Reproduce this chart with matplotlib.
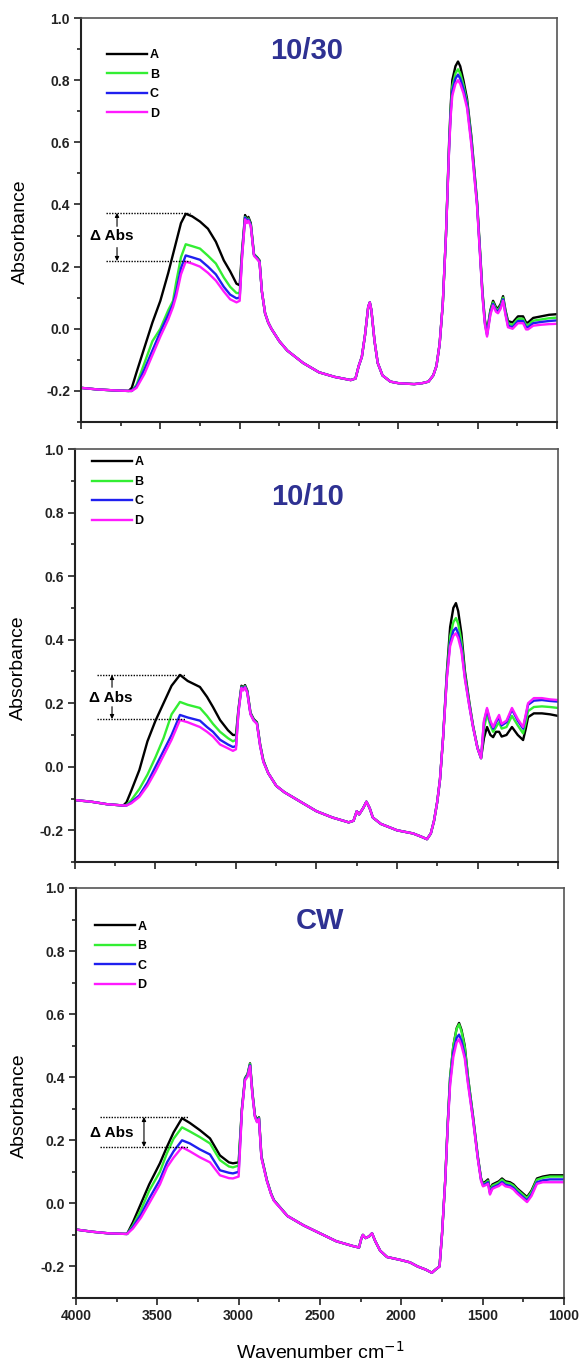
import matplotlib
matplotlib.use("Agg")
import matplotlib.pyplot as plt
from matplotlib.ticker import MultipleLocator, FixedLocator, NullFormatter

plt.rcParams["font.family"] = ["Liberation Sans", "DejaVu Sans"]
plt.rcParams["axes.unicode_minus"] = False

SERIES = ["A", "B", "C", "D"]
COLORS = ["#000000", "#33ee33", "#1f1fef", "#ff1aff"]
TITLES = ["10/30", "10/10", "CW"]

# ---------------- panel 1 : 10/30 ----------------
P1_WN = [4000, 3900, 3800, 3700, 3680, 3650, 3600, 3550, 3500, 3450,
         3420, 3400, 3370, 3340, 3300, 3250, 3200, 3150, 3100, 3060,
         3020, 3000, 2985, 2966, 2955, 2945, 2930, 2910, 2890, 2875,
         2860, 2840, 2820, 2800, 2750, 2700, 2600, 2500, 2400, 2300,
         2270, 2250, 2230, 2210, 2190, 2180, 2170, 2150, 2130, 2100,
         2050, 2000, 1900, 1850, 1810, 1780, 1760, 1740, 1720, 1700,
         1690, 1680, 1670, 1660, 1640, 1624, 1610, 1590, 1567, 1540,
         1504, 1485, 1470, 1455, 1441, 1420, 1403, 1385, 1372, 1355,
         1340, 1325, 1309, 1280, 1246, 1214, 1195, 1183, 1150, 1100,
         1050, 1000]
P1_A = [-0.190, -0.195, -0.198, -0.200, -0.190, -0.140, -0.060, 0.020, 0.090, 0.180,
        0.240, 0.280, 0.340, 0.370, 0.362, 0.345, 0.322, 0.280, 0.220, 0.185,
        0.145, 0.140, 0.250, 0.366, 0.350, 0.360, 0.340, 0.240, 0.230, 0.220,
        0.120, 0.050, 0.020, 0.000, -0.040, -0.070, -0.110, -0.140, -0.155, -0.165,
        -0.160, -0.120, -0.090, -0.020, 0.070, 0.085, 0.060, -0.040, -0.110, -0.150,
        -0.170, -0.175, -0.178, -0.175, -0.170, -0.150, -0.120, -0.050, 0.080, 0.300,
        0.450, 0.600, 0.720, 0.800, 0.845, 0.860, 0.845, 0.800, 0.740, 0.620,
        0.410, 0.250, 0.120, 0.030, -0.010, 0.060, 0.090, 0.070, 0.065, 0.080,
        0.105, 0.060, 0.025, 0.020, 0.040, 0.040, 0.020, 0.020, 0.035, 0.040,
        0.045, 0.047]
P1_B = [-0.190, -0.195, -0.198, -0.200, -0.200, -0.180, -0.110, -0.040, 0.000, 0.060,
        0.090, 0.150, 0.230, 0.272, 0.266, 0.258, 0.235, 0.210, 0.165, 0.135,
        0.115, 0.115, 0.240, 0.360, 0.345, 0.355, 0.335, 0.240, 0.228, 0.218,
        0.120, 0.050, 0.020, 0.000, -0.040, -0.070, -0.110, -0.140, -0.155, -0.165,
        -0.160, -0.120, -0.090, -0.020, 0.070, 0.085, 0.060, -0.040, -0.110, -0.150,
        -0.170, -0.175, -0.178, -0.175, -0.170, -0.150, -0.120, -0.050, 0.080, 0.300,
        0.445, 0.590, 0.705, 0.780, 0.822, 0.835, 0.822, 0.785, 0.730, 0.612,
        0.405, 0.245, 0.115, 0.025, -0.015, 0.055, 0.085, 0.065, 0.060, 0.075,
        0.100, 0.055, 0.018, 0.012, 0.032, 0.032, 0.012, 0.012, 0.026, 0.030,
        0.034, 0.036]
P1_C = [-0.190, -0.195, -0.198, -0.200, -0.200, -0.185, -0.130, -0.070, -0.010, 0.045,
        0.080, 0.120, 0.195, 0.236, 0.230, 0.222, 0.200, 0.175, 0.135, 0.110,
        0.098, 0.100, 0.235, 0.358, 0.343, 0.352, 0.333, 0.238, 0.226, 0.216,
        0.120, 0.050, 0.020, 0.000, -0.040, -0.070, -0.110, -0.140, -0.155, -0.165,
        -0.160, -0.120, -0.090, -0.020, 0.070, 0.085, 0.060, -0.040, -0.110, -0.150,
        -0.170, -0.175, -0.178, -0.175, -0.170, -0.150, -0.120, -0.050, 0.080, 0.300,
        0.442, 0.585, 0.695, 0.765, 0.805, 0.818, 0.805, 0.772, 0.720, 0.602,
        0.400, 0.240, 0.110, 0.020, -0.020, 0.050, 0.080, 0.060, 0.055, 0.070,
        0.095, 0.050, 0.010, 0.005, 0.025, 0.025, 0.005, 0.005, 0.018, 0.022,
        0.025, 0.027]
P1_D = [-0.190, -0.195, -0.198, -0.200, -0.200, -0.190, -0.145, -0.085, -0.025, 0.030,
        0.070, 0.105, 0.175, 0.216, 0.210, 0.200, 0.180, 0.155, 0.120, 0.095,
        0.085, 0.090, 0.230, 0.352, 0.340, 0.348, 0.330, 0.235, 0.224, 0.214,
        0.120, 0.050, 0.020, 0.000, -0.040, -0.070, -0.110, -0.140, -0.155, -0.165,
        -0.160, -0.120, -0.090, -0.020, 0.070, 0.085, 0.060, -0.040, -0.110, -0.150,
        -0.170, -0.175, -0.178, -0.175, -0.170, -0.150, -0.120, -0.050, 0.080, 0.300,
        0.440, 0.580, 0.685, 0.750, 0.788, 0.800, 0.788, 0.758, 0.710, 0.592,
        0.395, 0.235, 0.105, 0.015, -0.025, 0.045, 0.075, 0.055, 0.050, 0.065,
        0.090, 0.045, 0.005, 0.000, 0.018, 0.018, -0.002, -0.002, 0.010, 0.013,
        0.015, 0.016]

# ---------------- panel 2 : 10/10 ----------------
P2_WN = [4000, 3900, 3800, 3700, 3680, 3650, 3600, 3550, 3500, 3450,
         3400, 3348, 3300, 3224, 3180, 3143, 3099, 3050, 3019, 3000,
         2985, 2966, 2955, 2944, 2930, 2910, 2890, 2870, 2850, 2830,
         2800, 2750, 2700, 2600, 2500, 2400, 2300, 2270, 2250, 2235,
         2210, 2190, 2170, 2150, 2100, 2050, 2000, 1900, 1850, 1814,
         1790, 1770, 1750, 1733, 1714, 1690, 1670, 1650, 1634, 1620,
         1600, 1578, 1550, 1528, 1500, 1478, 1460, 1441, 1420, 1403,
         1385, 1366, 1350, 1320, 1286, 1250, 1217, 1200, 1186, 1150,
         1100, 1050, 1000]
P2_A = [-0.105, -0.110, -0.118, -0.122, -0.112, -0.075, -0.010, 0.080, 0.145, 0.200,
        0.255, 0.289, 0.270, 0.251, 0.220, 0.188, 0.147, 0.115, 0.100, 0.100,
        0.180, 0.255, 0.248, 0.257, 0.240, 0.170, 0.150, 0.140, 0.070, 0.020,
        -0.020, -0.060, -0.080, -0.110, -0.140, -0.160, -0.175, -0.170, -0.140, -0.150,
        -0.130, -0.110, -0.130, -0.160, -0.180, -0.190, -0.200, -0.210, -0.220, -0.228,
        -0.210, -0.170, -0.110, -0.040, 0.090, 0.300, 0.440, 0.500, 0.515, 0.490,
        0.420, 0.300, 0.200, 0.130, 0.060, 0.027, 0.090, 0.125, 0.100, 0.093,
        0.110, 0.110, 0.095, 0.100, 0.125, 0.100, 0.084, 0.120, 0.156, 0.168,
        0.168, 0.165, 0.160]
P2_B = [-0.105, -0.110, -0.118, -0.122, -0.120, -0.105, -0.070, -0.025, 0.030, 0.090,
        0.165, 0.204, 0.195, 0.185, 0.160, 0.135, 0.110, 0.090, 0.080, 0.085,
        0.175, 0.252, 0.245, 0.254, 0.237, 0.168, 0.148, 0.138, 0.068, 0.018,
        -0.020, -0.060, -0.080, -0.110, -0.140, -0.160, -0.175, -0.170, -0.140, -0.150,
        -0.130, -0.110, -0.130, -0.160, -0.180, -0.190, -0.200, -0.210, -0.220, -0.228,
        -0.210, -0.170, -0.110, -0.040, 0.090, 0.290, 0.410, 0.455, 0.468, 0.450,
        0.395, 0.290, 0.195, 0.128, 0.060, 0.027, 0.120, 0.165, 0.130, 0.110,
        0.125, 0.140, 0.120, 0.125, 0.160, 0.130, 0.105, 0.140, 0.175, 0.188,
        0.190, 0.188, 0.185]
P2_C = [-0.105, -0.110, -0.118, -0.122, -0.122, -0.112, -0.090, -0.050, 0.000, 0.050,
        0.100, 0.163, 0.155, 0.145, 0.125, 0.110, 0.085, 0.070, 0.062, 0.065,
        0.172, 0.250, 0.243, 0.252, 0.235, 0.166, 0.146, 0.136, 0.066, 0.016,
        -0.020, -0.060, -0.080, -0.110, -0.140, -0.160, -0.175, -0.170, -0.140, -0.150,
        -0.130, -0.110, -0.130, -0.160, -0.180, -0.190, -0.200, -0.210, -0.220, -0.228,
        -0.210, -0.170, -0.110, -0.040, 0.090, 0.285, 0.390, 0.428, 0.437, 0.420,
        0.375, 0.280, 0.190, 0.126, 0.058, 0.027, 0.140, 0.180, 0.140, 0.120,
        0.140, 0.155, 0.130, 0.140, 0.180, 0.145, 0.120, 0.160, 0.195, 0.208,
        0.210, 0.207, 0.205]
P2_D = [-0.105, -0.110, -0.118, -0.122, -0.122, -0.115, -0.095, -0.060, -0.015, 0.035,
        0.085, 0.147, 0.140, 0.125, 0.110, 0.095, 0.070, 0.058, 0.050, 0.055,
        0.170, 0.248, 0.240, 0.250, 0.233, 0.165, 0.145, 0.135, 0.065, 0.015,
        -0.020, -0.060, -0.080, -0.110, -0.140, -0.160, -0.175, -0.170, -0.140, -0.150,
        -0.130, -0.110, -0.130, -0.160, -0.180, -0.190, -0.200, -0.210, -0.220, -0.228,
        -0.210, -0.170, -0.110, -0.040, 0.090, 0.280, 0.380, 0.412, 0.420, 0.405,
        0.365, 0.275, 0.188, 0.125, 0.058, 0.027, 0.145, 0.185, 0.145, 0.125,
        0.145, 0.163, 0.135, 0.145, 0.185, 0.150, 0.125, 0.165, 0.200, 0.216,
        0.216, 0.212, 0.210]

# ---------------- panel 3 : CW ----------------
P3_WN = [4000, 3900, 3800, 3686, 3650, 3600, 3550, 3484, 3440, 3400,
         3348, 3300, 3238, 3176, 3115, 3060, 3035, 3000, 2980, 2961,
         2945, 2930, 2915, 2900, 2887, 2875, 2860, 2826, 2800, 2783,
         2700, 2600, 2500, 2400, 2300, 2260, 2245, 2236, 2220, 2199,
         2180, 2160, 2130, 2088, 2000, 1947, 1900, 1850, 1812, 1790,
         1765, 1750, 1730, 1715, 1700, 1680, 1660, 1645, 1630, 1610,
         1590, 1560, 1530, 1510, 1498, 1480, 1467, 1455, 1440, 1420,
         1400, 1381, 1360, 1332, 1310, 1289, 1260, 1227, 1200, 1166,
         1130, 1086, 1000]
P3_A = [-0.083, -0.090, -0.095, -0.097, -0.060, 0.000, 0.060, 0.127, 0.180, 0.225,
        0.270, 0.255, 0.232, 0.206, 0.152, 0.130, 0.127, 0.130, 0.300, 0.397,
        0.410, 0.444, 0.350, 0.280, 0.263, 0.273, 0.150, 0.073, 0.030, 0.010,
        -0.040, -0.070, -0.095, -0.120, -0.135, -0.140, -0.110, -0.100, -0.110, -0.105,
        -0.095, -0.120, -0.150, -0.170, -0.180, -0.187, -0.200, -0.210, -0.220, -0.210,
        -0.200, -0.100, 0.073, 0.250, 0.400, 0.500, 0.555, 0.572, 0.550, 0.500,
        0.400, 0.280, 0.150, 0.080, 0.063, 0.070, 0.076, 0.041, 0.060, 0.065,
        0.070, 0.079, 0.070, 0.067, 0.060, 0.048, 0.035, 0.020, 0.040, 0.079,
        0.085, 0.089, 0.089]
P3_B = [-0.083, -0.090, -0.095, -0.097, -0.070, -0.020, 0.040, 0.100, 0.160, 0.205,
        0.241, 0.228, 0.210, 0.190, 0.137, 0.117, 0.114, 0.120, 0.298, 0.395,
        0.408, 0.442, 0.348, 0.278, 0.261, 0.271, 0.148, 0.072, 0.030, 0.010,
        -0.040, -0.070, -0.095, -0.120, -0.135, -0.140, -0.110, -0.100, -0.110, -0.105,
        -0.095, -0.120, -0.150, -0.170, -0.180, -0.187, -0.200, -0.210, -0.220, -0.210,
        -0.200, -0.100, 0.073, 0.250, 0.400, 0.500, 0.553, 0.568, 0.545, 0.495,
        0.398, 0.278, 0.148, 0.078, 0.060, 0.066, 0.072, 0.037, 0.056, 0.061,
        0.066, 0.075, 0.066, 0.063, 0.056, 0.044, 0.031, 0.016, 0.036, 0.075,
        0.081, 0.085, 0.085]
P3_C = [-0.083, -0.090, -0.095, -0.097, -0.075, -0.035, 0.015, 0.075, 0.130, 0.165,
        0.200, 0.190, 0.171, 0.155, 0.105, 0.097, 0.095, 0.100, 0.295, 0.393,
        0.405, 0.438, 0.345, 0.276, 0.259, 0.269, 0.146, 0.071, 0.029, 0.009,
        -0.040, -0.070, -0.095, -0.120, -0.135, -0.140, -0.110, -0.100, -0.110, -0.105,
        -0.095, -0.120, -0.150, -0.170, -0.180, -0.187, -0.200, -0.210, -0.220, -0.210,
        -0.200, -0.100, 0.072, 0.245, 0.385, 0.480, 0.525, 0.535, 0.515, 0.470,
        0.385, 0.272, 0.145, 0.075, 0.057, 0.062, 0.067, 0.032, 0.050, 0.055,
        0.060, 0.068, 0.059, 0.056, 0.049, 0.037, 0.024, 0.009, 0.028, 0.067,
        0.073, 0.076, 0.076]
P3_D = [-0.083, -0.090, -0.095, -0.097, -0.080, -0.045, 0.000, 0.060, 0.115, 0.145,
        0.178, 0.165, 0.146, 0.130, 0.089, 0.080, 0.079, 0.085, 0.292, 0.390,
        0.402, 0.435, 0.342, 0.274, 0.257, 0.267, 0.144, 0.070, 0.028, 0.008,
        -0.040, -0.070, -0.095, -0.120, -0.135, -0.140, -0.110, -0.100, -0.110, -0.105,
        -0.095, -0.120, -0.150, -0.170, -0.180, -0.187, -0.200, -0.210, -0.220, -0.210,
        -0.200, -0.100, 0.072, 0.240, 0.375, 0.465, 0.510, 0.520, 0.500, 0.460,
        0.378, 0.268, 0.142, 0.072, 0.054, 0.058, 0.062, 0.028, 0.046, 0.051,
        0.055, 0.063, 0.054, 0.051, 0.044, 0.032, 0.019, 0.004, 0.023, 0.062,
        0.067, 0.067, 0.067]

# Delta Abs markers: (upper level, lower level, line x-extent, arrow x, text x, text y)
DELTA = [
    dict(top=0.373, bot=0.218, x0=3842, x1=3313, xa=3773, xt=3805, yt=0.298, split=True),
    dict(top=0.289, bot=0.150, x0=3863, x1=3317, xa=3770, xt=3776, yt=0.216, split=True),
    dict(top=0.274, bot=0.179, x0=3852, x1=3311, xa=3582, xt=3781, yt=0.223, split=False),
]

PANELS = [
    (P1_WN, [P1_A, P1_B, P1_C, P1_D]),
    (P2_WN, [P2_A, P2_B, P2_C, P2_D]),
    (P3_WN, [P3_A, P3_B, P3_C, P3_D]),
]

# axes rectangles in figure fractions
RECTS = [
    (0.1387, 0.6906, 0.8151, 0.2962),
    (0.1284, 0.3680, 0.8271, 0.3028),
    (0.1301, 0.0484, 0.8356, 0.3006),
]
TITLE_POS = [(2576, 0.893), (2553, 0.850), (2500, 0.895)]
LEGEND_POS = [(0.055, 0.923), (0.035, 0.982), (0.039, 0.920)]
YLABEL_PX = [(20, 232), (18.5, 668), (19, 1106)]

W, H = 584, 1364
fig = plt.figure(figsize=(W / 100, H / 100), dpi=100)

for i, ((wn, ys), rect) in enumerate(zip(PANELS, RECTS)):
    ax = fig.add_axes(rect)
    for name, col, yv in zip(SERIES, COLORS, ys):
        ax.plot(wn, yv, color=col, lw=1.7, label=name, solid_joinstyle="round")
    ax.set_xlim(4000, 1000)
    ax.set_ylim(-0.3, 1.0)
    ax.yaxis.set_major_locator(FixedLocator([-0.2, 0.0, 0.2, 0.4, 0.6, 0.8, 1.0]))
    ax.yaxis.set_minor_locator(MultipleLocator(0.1))
    ax.xaxis.set_major_locator(MultipleLocator(500))
    ax.xaxis.set_minor_locator(MultipleLocator(250))
    ax.tick_params(which="both", direction="out", top=False, right=False,
                   width=1.2, colors="#222222")
    ax.tick_params(which="major", length=5, pad=3)
    ax.tick_params(which="minor", length=3)
    ax.tick_params(labelsize=10)
    ax.set_yticklabels([f"{v:.1f}" for v in [-0.2, 0.0, 0.2, 0.4, 0.6, 0.8, 1.0]],
                       fontweight="bold")
    if i < 2:
        ax.xaxis.set_major_formatter(NullFormatter())
    else:
        ax.set_xticks([4000, 3500, 3000, 2500, 2000, 1500, 1000])
        ax.set_xticklabels(["4000", "3500", "3000", "2500", "2000", "1500", "1000"],
                           fontweight="bold")
    for side in ("left", "bottom"):
        ax.spines[side].set_linewidth(1.5)
        ax.spines[side].set_color("#222222")
    for side in ("top", "right"):
        ax.spines[side].set_linewidth(1.2)
        ax.spines[side].set_color("#555555")

    tx, ty = TITLE_POS[i]
    ax.text(tx, ty, TITLES[i], color="#2e3192", fontsize=21, fontweight="bold",
            ha="center", va="center")

    lx, ly = LEGEND_POS[i]
    ax.legend(loc="upper left", bbox_to_anchor=(lx, ly), frameon=False,
              handlelength=3.2, handletextpad=0.2, labelspacing=0.6,
              borderpad=0, borderaxespad=0,
              prop=dict(weight="bold", size=9))

    d = DELTA[i]
    for lev in (d["top"], d["bot"]):
        ax.plot([d["x0"], d["x1"]], [lev, lev], color="black", lw=1.0,
                linestyle=(0, (1, 1)))
    ax.text(d["xt"], d["yt"], "\u0394 Abs", fontsize=11, fontweight="bold",
            ha="center", va="center")
    ap = dict(arrowstyle="-|>", color="black", lw=0.8, mutation_scale=6,
              shrinkA=0, shrinkB=0)
    if d["split"]:
        gap = (d["top"] - d["bot"]) * 0.28
        ax.annotate("", xy=(d["xa"], d["top"]), xytext=(d["xa"], d["top"] - gap),
                    arrowprops=ap)
        ax.annotate("", xy=(d["xa"], d["bot"]), xytext=(d["xa"], d["bot"] + gap),
                    arrowprops=ap)
    else:
        ap2 = dict(ap, arrowstyle="<|-|>")
        ax.annotate("", xy=(d["xa"], d["top"]), xytext=(d["xa"], d["bot"]),
                    arrowprops=ap2)

    px, py = YLABEL_PX[i]
    fig.text(px / W, 1 - py / H, "Absorbance", rotation=90, fontsize=14,
             ha="center", va="center")

fig.text(320 / W, 1 - 1352 / H, "Wavenumber cm$^{-1}$", fontsize=14,
         ha="center", va="center")

fig.savefig("out.png", dpi=100)
